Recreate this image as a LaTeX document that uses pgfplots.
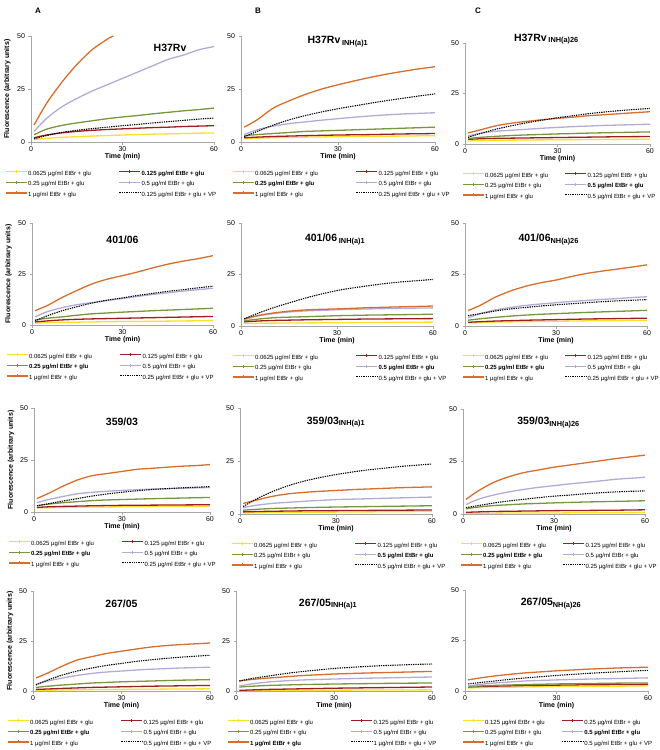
\documentclass[border=0pt]{standalone}
\usepackage{pgfplots}
\pgfplotsset{compat=1.18}
\usepackage{fontspec}
\setmainfont{Liberation Sans}
\definecolor{cyel}{RGB}{250,225,40}
\definecolor{cred}{RGB}{160,30,35}
\definecolor{cgrn}{RGB}{120,150,60}
\definecolor{clav}{RGB}{180,170,215}
\definecolor{corg}{RGB}{215,110,45}
\newcommand{\lf}{\fontsize{6}{7}\selectfont}
\newcommand{\ug}{µg/ml EtBr + glu}
\pgfplotsset{
  panel/.style={scale only axis, anchor=south west, xmin=0,xmax=60,ymin=0,ymax=50, clip=false,
    xtick={0,30,60}, ytick={0,25,50},
    axis x line*=bottom, axis y line*=left,
    hide obscured x ticks=false, hide obscured y ticks=false,
    axis line style={draw=gray!70, line width=0.6pt, -},
    major tick length=2.5pt, tick align=outside,
    tick style={draw=gray!70, line width=0.6pt},
    /pgf/number format/assume math mode=true,
    tick label style={font=\fontsize{7}{8}\selectfont},
    xticklabel style={yshift=1pt},
    xlabel={Time (min)},
    xlabel style={font=\bfseries\fontsize{7}{8}\selectfont, at={(axis description cs:0.5,0)}, anchor=center, yshift=-15pt},
    ylabel style={font=\bfseries\fontsize{7}{8}\selectfont, at={(axis description cs:-0.13,0.5)}, anchor=center},
    legend columns=2, legend cell align=left,
    legend style={draw=none, fill=none, font=\lf, anchor=north west, at={(axis description cs:0,0)}, inner sep=0pt, row sep=3.3pt, nodes={inner sep=0.6pt}, yshift=-28pt},
    legend image code/.code={\draw[##1] (0pt,2.1pt) -- (21pt,2.1pt); \draw[##1, mark=+, mark size=1.6pt] plot coordinates {(10.5pt,2.1pt)};},
    every axis plot/.append style={line width=1.3pt, smooth, mark=none},
  },
  colA/.style={legend style={xshift=-26pt, /tikz/every even column/.append style={column sep=27pt}}, ylabel={Fluorescence (arbitrary units)}},
  colB/.style={legend style={xshift=-9pt, /tikz/every even column/.append style={column sep=37pt}}},
  colC/.style={legend style={xshift=-3pt, /tikz/every even column/.append style={column sep=16pt}}},
  syel/.style={cyel},
  sred/.style={cred},
  sgrn/.style={cgrn},
  slav/.style={clav},
  sorg/.style={corg},
  sdot/.style={black, densely dotted, line width=1.1pt, legend image code/.code={\draw[##1] (0pt,2.1pt) -- (21pt,2.1pt);}},
}
\tikzset{ttl/.style={font=\bfseries\fontsize{10.5}{11}\selectfont}}
\begin{document}
\begin{tikzpicture}
\path[use as bounding box] (0,0) rectangle (660pt,-750pt);
\node[font=\bfseries\fontsize{8}{9}\selectfont] at (38pt,-11pt) {A};
\node[font=\bfseries\fontsize{8}{9}\selectfont] at (258pt,-11pt) {B};
\node[font=\bfseries\fontsize{8}{9}\selectfont] at (478pt,-11pt) {C};

% ---------------- Row 1 ----------------
\begin{axis}[panel, colA, at={(31pt,-142pt)}, width=183pt, height=106pt]
\addplot[syel] coordinates {(1,1.2)(5,1.7)(10,2.2)(15,2.5)(20,2.8)(25,3.05)(30,3.3)(35,3.5)(40,3.7)(45,3.85)(50,4)(55,4.15)(60,4.3)};
\addplot[sred] coordinates {(1,2)(5,3.3)(10,4.3)(15,5)(20,5.5)(25,5.9)(30,6.2)(35,6.5)(40,6.8)(45,7)(50,7.3)(55,7.5)(60,7.7)};
\addplot[sgrn] coordinates {(1,3.4)(5,6)(10,7.8)(15,9)(20,10)(25,11)(30,11.8)(35,12.5)(40,13.3)(45,14)(50,14.7)(55,15.3)(60,16)};
\addplot[slav] coordinates {(1,5)(5,11)(10,16.5)(15,20.5)(20,24)(25,27)(30,30)(35,33)(40,36)(45,39)(50,41)(55,43.5)(60,45)};
\addplot[sorg] coordinates {(1,8)(5,18)(10,28)(15,36.5)(20,43.5)(25,48.5)(27,50)};
\addplot[sdot] coordinates {(1,1.5)(5,3)(10,4.5)(15,5.5)(20,6.3)(25,7)(30,7.7)(35,8.3)(40,9)(45,9.6)(50,10.2)(55,10.8)(60,11.3)};
\legend{0.0625 \ug,\textbf{0.125 \ug},0.25 \ug,0.5 \ug,1 \ug,0.125 \ug{} + VP}
\node[ttl] at (rel axis cs:0.76,0.89) {H37Rv};
\end{axis}

\begin{axis}[panel, colB, at={(241pt,-142pt)}, width=194pt, height=106pt]
\addplot[syel] coordinates {(1,1.5)(5,1.8)(10,2)(15,2.15)(20,2.3)(25,2.4)(30,2.5)(35,2.6)(40,2.7)(45,2.75)(50,2.8)(55,2.9)(60,3)};
\addplot[sred] coordinates {(1,2)(5,2.3)(10,2.6)(15,2.8)(20,3)(25,3.15)(30,3.3)(35,3.4)(40,3.5)(45,3.65)(50,3.8)(55,3.9)(60,4)};
\addplot[sgrn] coordinates {(1,3)(5,3.5)(10,4)(15,4.5)(20,5)(25,5.25)(30,5.5)(35,5.75)(40,6)(45,6.25)(50,6.5)(55,6.75)(60,7)};
\addplot[slav] coordinates {(1,3.5)(5,5.8)(10,7.5)(15,8.7)(20,9.5)(25,10.3)(30,11)(35,11.7)(40,12.3)(45,12.8)(50,13.2)(55,13.5)(60,13.8)};
\addplot[sorg] coordinates {(1,7)(5,10.5)(10,16)(15,19.5)(20,22.5)(25,25)(30,27)(35,28.8)(40,30.5)(45,32)(50,33.3)(55,34.5)(60,35.5)};
\addplot[sdot] coordinates {(1,2.5)(5,5)(10,8)(15,10.5)(20,12.5)(25,14.2)(30,15.7)(35,17)(40,18.3)(45,19.5)(50,20.6)(55,21.7)(60,22.7)};
\legend{0.0625 \ug,0.125 \ug,\textbf{0.25 \ug},0.5 \ug,1 \ug,0.25 \ug{} + VP}
\node[ttl] at (rel axis cs:0.5,0.95) {H37Rv\,\textsubscript{INH(a)1}};
\end{axis}

\begin{axis}[panel, colC, at={(465pt,-144pt)}, width=185pt, height=101pt]
\addplot[syel] coordinates {(1,1.5)(5,1.65)(10,1.8)(15,1.9)(20,2)(25,2.05)(30,2.1)(35,2.15)(40,2.2)(45,2.25)(50,2.3)(55,2.35)(60,2.4)};
\addplot[sred] coordinates {(1,2.3)(5,2.6)(10,2.8)(15,2.9)(20,3)(25,3.1)(30,3.2)(35,3.3)(40,3.4)(45,3.5)(50,3.6)(55,3.65)(60,3.7)};
\addplot[sgrn] coordinates {(1,2.7)(5,3.3)(10,3.8)(15,4.2)(20,4.5)(25,4.75)(30,5)(35,5.2)(40,5.4)(45,5.55)(50,5.7)(55,5.85)(60,6)};
\addplot[slav] coordinates {(1,4)(5,5.3)(10,6.3)(15,6.8)(20,7.3)(25,7.8)(30,8.2)(35,8.6)(40,8.9)(45,9.2)(50,9.4)(55,9.6)(60,9.8)};
\addplot[sorg] coordinates {(1,5.5)(5,7)(10,9)(15,10.3)(20,11.2)(25,12)(30,12.7)(35,13.3)(40,14)(45,14.5)(50,15)(55,15.5)(60,16)};
\addplot[sdot] coordinates {(1,3.3)(5,5.2)(10,7.3)(15,9)(20,10.5)(25,11.8)(30,13)(35,14)(40,15)(45,15.8)(50,16.5)(55,17.1)(60,17.6)};
\legend{0.0625 \ug,0.125 \ug,0.25 \ug,\textbf{0.5 \ug},1 \ug,0.5 \ug{} + VP}
\node[ttl] at (rel axis cs:0.44,1.04) {H37Rv\,\textsubscript{INH(a)26}};
\end{axis}

% ---------------- Row 2 ----------------
\begin{axis}[panel, colA, at={(32pt,-325pt)}, width=181pt, height=102pt]
\addplot[syel] coordinates {(1,1)(5,1.15)(10,1.3)(15,1.4)(20,1.5)(25,1.6)(30,1.7)(35,1.75)(40,1.8)(45,1.9)(50,2)(55,2.05)(60,2.1)};
\addplot[sred] coordinates {(1,1.5)(5,2)(10,2.5)(15,2.8)(20,3)(25,3.15)(30,3.3)(35,3.45)(40,3.6)(45,3.75)(50,3.9)(55,4.05)(60,4.2)};
\addplot[sgrn] coordinates {(1,2.5)(5,3.3)(10,4)(15,4.8)(20,5.5)(25,5.9)(30,6.3)(35,6.65)(40,7)(45,7.3)(50,7.6)(55,7.9)(60,8.2)};
\addplot[slav] coordinates {(1,4)(5,6.5)(10,8.5)(15,10)(20,11)(25,12)(30,13)(35,14)(40,15)(45,15.8)(50,16.6)(55,17.3)(60,18)};
\addplot[sorg] coordinates {(1,7)(5,9.5)(10,13.5)(15,17)(20,20.2)(25,22.5)(30,24.2)(35,26)(40,28)(45,29.8)(50,31.3)(55,32.5)(60,34)};
\addplot[sdot] coordinates {(1,2)(5,4.5)(10,7)(15,9)(20,10.8)(25,12.2)(30,13.3)(35,14.5)(40,15.5)(45,16.5)(50,17.3)(55,18.2)(60,19)};
\legend{0.0625 \ug,0.125 \ug,\textbf{0.25 \ug},0.5 \ug,1 \ug,0.25 \ug{} + VP}
\node[ttl] at (rel axis cs:0.5,0.84) {401/06};
\end{axis}

\begin{axis}[panel, colB, at={(241pt,-326pt)}, width=192pt, height=103pt]
\addplot[syel] coordinates {(1,1.2)(5,1.3)(10,1.4)(15,1.45)(20,1.5)(25,1.55)(30,1.6)(35,1.65)(40,1.7)(45,1.75)(50,1.8)(55,1.85)(60,1.9)};
\addplot[sred] coordinates {(1,2)(5,2.4)(10,2.7)(15,2.85)(20,3)(25,3.1)(30,3.2)(35,3.3)(40,3.4)(45,3.45)(50,3.5)(55,3.55)(60,3.6)};
\addplot[sgrn] coordinates {(1,2.5)(5,3.3)(10,4)(15,4.3)(20,4.5)(25,4.75)(30,5)(35,5.15)(40,5.3)(45,5.4)(50,5.5)(55,5.6)(60,5.7)};
\addplot[slav] coordinates {(1,3)(5,4.8)(10,6)(15,6.8)(20,7.3)(25,7.6)(30,7.9)(35,8.1)(40,8.3)(45,8.45)(50,8.6)(55,8.7)(60,8.8)};
\addplot[sorg] coordinates {(1,3.5)(5,5)(10,6.3)(15,7.2)(20,7.8)(25,8.1)(30,8.3)(35,8.6)(40,8.9)(45,9.1)(50,9.3)(55,9.5)(60,9.7)};
\addplot[sdot] coordinates {(1,3.5)(5,6)(10,8.8)(15,11.2)(20,13.5)(25,15.5)(30,17.2)(35,18.5)(40,19.6)(45,20.6)(50,21.4)(55,22)(60,22.6)};
\legend{0.0625 \ug,0.125 \ug,0.25 \ug,\textbf{0.5 \ug},1 \ug,0.5 \ug{} + VP}
\node[ttl] at (rel axis cs:0.49,0.84) {401/06\,\textsubscript{INH(a)1}};
\end{axis}

\begin{axis}[panel, colC, at={(465pt,-326pt)}, width=182pt, height=103pt]
\addplot[syel] coordinates {(1,1.5)(5,1.7)(10,1.9)(15,2)(20,2.1)(25,2.2)(30,2.3)(35,2.4)(40,2.5)(45,2.55)(50,2.6)(55,2.65)(60,2.7)};
\addplot[sred] coordinates {(1,1.8)(5,2.1)(10,2.4)(15,2.6)(20,2.8)(25,2.95)(30,3.1)(35,3.25)(40,3.4)(45,3.5)(50,3.6)(55,3.7)(60,3.8)};
\addplot[sgrn] coordinates {(1,2.8)(5,3.5)(10,4.2)(15,4.8)(20,5.3)(25,5.7)(30,6)(35,6.3)(40,6.6)(45,6.85)(50,7.1)(55,7.35)(60,7.6)};
\addplot[slav] coordinates {(1,4)(5,6)(10,7.8)(15,9)(20,10)(25,10.7)(30,11.3)(35,11.9)(40,12.4)(45,12.9)(50,13.3)(55,13.8)(60,14.2)};
\addplot[sorg] coordinates {(1,7.5)(5,10)(10,14)(15,17)(20,19.3)(25,21)(30,22.3)(35,24)(40,25.5)(45,26.6)(50,27.6)(55,28.6)(60,29.7)};
\addplot[sdot] coordinates {(1,5)(5,6)(10,7.3)(15,8.3)(20,9)(25,9.7)(30,10.3)(35,10.8)(40,11.3)(45,11.8)(50,12.2)(55,12.5)(60,12.8)};
\legend{0.0625 \ug,0.125 \ug,\textbf{0.25 \ug},0.5 \ug,1 \ug,0.25 \ug{} + VP}
\node[ttl] at (rel axis cs:0.46,0.84) {401/06\textsubscript{NH(a)26}};
\end{axis}

% ---------------- Row 3 ----------------
\begin{axis}[panel, colA, at={(34pt,-512pt)}, width=176pt, height=104pt]
\addplot[syel] coordinates {(1,2)(5,2.1)(10,2.2)(15,2.3)(20,2.4)(25,2.45)(30,2.5)(35,2.55)(40,2.6)(45,2.65)(50,2.7)(55,2.75)(60,2.8)};
\addplot[sred] coordinates {(1,2.2)(5,2.5)(10,2.7)(15,2.85)(20,3)(25,3.1)(30,3.2)(35,3.25)(40,3.3)(45,3.35)(50,3.4)(55,3.45)(60,3.5)};
\addplot[sgrn] coordinates {(1,3)(5,3.8)(10,4.5)(15,5)(20,5.5)(25,5.8)(30,6)(35,6.2)(40,6.4)(45,6.55)(50,6.7)(55,6.85)(60,7)};
\addplot[slav] coordinates {(1,4.5)(5,6)(10,7.5)(15,8.8)(20,9.5)(25,10)(30,10.4)(35,10.7)(40,11)(45,11.2)(50,11.4)(55,11.6)(60,11.8)};
\addplot[sorg] coordinates {(1,6.5)(5,9)(10,12.5)(15,15.5)(20,17.5)(25,18.5)(30,19.5)(35,20.5)(40,21)(45,21.5)(50,22)(55,22.3)(60,22.8)};
\addplot[sdot] coordinates {(1,3)(5,4)(10,5.3)(15,6.5)(20,7.7)(25,8.7)(30,9.5)(35,10.2)(40,10.8)(45,11.2)(50,11.6)(55,11.9)(60,12.2)};
\legend{0.0625 \ug,0.125 \ug,\textbf{0.25 \ug},0.5 \ug,1 \ug,0.25 \ug{} + VP}
\node[ttl] at (rel axis cs:0.5,0.87) {359/03};
\end{axis}

\begin{axis}[panel, colB, at={(240pt,-514pt)}, width=192pt, height=106pt]
\addplot[syel] coordinates {(1,0.5)(5,0.6)(10,0.7)(15,0.75)(20,0.8)(25,0.85)(30,0.9)(35,0.95)(40,1)(45,1.05)(50,1.1)(55,1.15)(60,1.2)};
\addplot[sred] coordinates {(1,1)(5,1.15)(10,1.3)(15,1.4)(20,1.5)(25,1.55)(30,1.6)(35,1.65)(40,1.7)(45,1.75)(50,1.8)(55,1.85)(60,1.9)};
\addplot[sgrn] coordinates {(1,1.8)(5,2.2)(10,2.6)(15,2.8)(20,3)(25,3.15)(30,3.3)(35,3.4)(40,3.5)(45,3.6)(50,3.7)(55,3.8)(60,3.9)};
\addplot[slav] coordinates {(1,3)(5,4.1)(10,5)(15,5.5)(20,6)(25,6.4)(30,6.8)(35,7)(40,7.2)(45,7.4)(50,7.6)(55,7.8)(60,8)};
\addplot[sorg] coordinates {(1,5)(5,6.5)(10,8.3)(15,9.5)(20,10.2)(25,10.7)(30,11.1)(35,11.5)(40,11.8)(45,12.1)(50,12.4)(55,12.6)(60,12.8)};
\addplot[sdot] coordinates {(1,3.5)(5,7)(10,10.5)(15,13.3)(20,15.5)(25,17.2)(30,18.6)(35,19.8)(40,20.8)(45,21.6)(50,22.4)(55,23)(60,23.6)};
\legend{0.0625 \ug,0.125 \ug,0.25 \ug,\textbf{0.5 \ug},1 \ug,0.5 \ug{} + VP}
\node[ttl] at (rel axis cs:0.5,0.87) {359/03\textsubscript{INH(a)1}};
\end{axis}

\begin{axis}[panel, colC, at={(463pt,-514pt)}, width=182pt, height=105pt]
\addplot[syel] coordinates {(1,0.3)(5,0.35)(10,0.4)(15,0.45)(20,0.5)(25,0.5)(30,0.5)(35,0.55)(40,0.6)(45,0.6)(50,0.6)(55,0.65)(60,0.7)};
\addplot[sred] coordinates {(1,0.8)(5,1)(10,1.2)(15,1.3)(20,1.4)(25,1.5)(30,1.6)(35,1.65)(40,1.7)(45,1.75)(50,1.8)(55,1.9)(60,2)};
\addplot[sgrn] coordinates {(1,2.5)(5,3.3)(10,4)(15,4.4)(20,4.8)(25,5.05)(30,5.3)(35,5.5)(40,5.7)(45,5.85)(50,6)(55,6.15)(60,6.3)};
\addplot[slav] coordinates {(1,4.5)(5,7)(10,9)(15,10.5)(20,11.7)(25,12.7)(30,13.5)(35,14.3)(40,15)(45,15.7)(50,16.5)(55,17)(60,17.5)};
\addplot[sorg] coordinates {(1,7)(5,11)(10,15)(15,17.7)(20,19.7)(25,21)(30,22.3)(35,23.3)(40,24.3)(45,25.3)(50,26.3)(55,27.2)(60,28)};
\addplot[sdot] coordinates {(1,3)(5,4)(10,5.2)(15,6.2)(20,7)(25,7.8)(30,8.5)(35,9)(40,9.6)(45,10.1)(50,10.5)(55,10.8)(60,11)};
\legend{0.0625 \ug,0.125 \ug,\textbf{0.25 \ug},0.5 \ug,1 \ug,0.25 \ug{} + VP}
\node[ttl] at (rel axis cs:0.47,0.87) {359/03\textsubscript{INH(a)26}};
\end{axis}

% ---------------- Row 4 ----------------
\begin{axis}[panel, colA, at={(33pt,-691pt)}, width=177pt, height=100pt]
\addplot[syel] coordinates {(1,0.3)(5,0.4)(10,0.5)(15,0.6)(20,0.7)(25,0.75)(30,0.8)(35,0.85)(40,0.9)(45,0.95)(50,1)(55,1.05)(60,1.1)};
\addplot[sred] coordinates {(1,0.8)(5,1)(10,1.3)(15,1.55)(20,1.8)(25,1.95)(30,2.1)(35,2.25)(40,2.4)(45,2.5)(50,2.6)(55,2.7)(60,2.8)};
\addplot[sgrn] coordinates {(1,1.8)(5,2.4)(10,3)(15,3.5)(20,4)(25,4.3)(30,4.6)(35,4.8)(40,5)(45,5.2)(50,5.4)(55,5.55)(60,5.7)};
\addplot[slav] coordinates {(1,3.5)(5,5)(10,6.5)(15,7.8)(20,8.8)(25,9.5)(30,10)(35,10.5)(40,10.9)(45,11.2)(50,11.5)(55,11.7)(60,11.9)};
\addplot[sorg] coordinates {(1,6.5)(5,9)(10,12.5)(15,15.5)(20,17.2)(25,18.8)(30,19.9)(35,21)(40,22)(45,22.7)(50,23.2)(55,23.6)(60,24)};
\addplot[sdot] coordinates {(1,3)(5,5.5)(10,8)(15,10)(20,11.5)(25,12.8)(30,13.8)(35,14.8)(40,15.6)(45,16.3)(50,16.9)(55,17.4)(60,17.9)};
\legend{0.0625 \ug,0.125 \ug,\textbf{0.25 \ug},0.5 \ug,1 \ug,0.5 \ug{} + VP}
\node[ttl] at (rel axis cs:0.5,0.87) {267/05};
\end{axis}

\begin{axis}[panel, colB, at={(236pt,-691pt)}, width=196pt, height=100pt]
\addplot[syel] coordinates {(1,0.2)(5,0.25)(10,0.3)(15,0.35)(20,0.4)(25,0.4)(30,0.4)(35,0.45)(40,0.5)(45,0.5)(50,0.5)(55,0.55)(60,0.6)};
\addplot[sred] coordinates {(1,0.3)(5,0.55)(10,0.8)(15,0.95)(20,1.1)(25,1.25)(30,1.4)(35,1.5)(40,1.6)(45,1.7)(50,1.8)(55,1.9)(60,2)};
\addplot[sgrn] coordinates {(1,2)(5,2.4)(10,2.8)(15,3)(20,3.2)(25,3.35)(30,3.5)(35,3.6)(40,3.7)(45,3.8)(50,3.9)(55,3.95)(60,4)};
\addplot[slav] coordinates {(1,2.5)(5,3.6)(10,4.5)(15,5.1)(20,5.5)(25,5.75)(30,6)(35,6.2)(40,6.4)(45,6.55)(50,6.7)(55,6.85)(60,7)};
\addplot[sorg] coordinates {(1,5)(5,5.8)(10,6.5)(15,7.1)(20,7.7)(25,8.1)(30,8.5)(35,8.75)(40,9)(45,9.2)(50,9.4)(55,9.6)(60,9.8)};
\addplot[sdot] coordinates {(1,5)(5,6.3)(10,7.5)(15,8.7)(20,9.7)(25,10.5)(30,11.3)(35,11.8)(40,12.3)(45,12.7)(50,13)(55,13.3)(60,13.5)};
\legend{0.0625 \ug,0.125 \ug,0.25 \ug,0.5 \ug,\textbf{1 \ug},1 \ug{} + VP}
\node[ttl] at (rel axis cs:0.47,0.87) {267/05\textsubscript{INH(a)1}};
\end{axis}

\begin{axis}[panel, colC, at={(465pt,-691pt)}, width=183pt, height=101pt]
\addplot[syel] coordinates {(1,1.5)(5,1.65)(10,1.8)(15,1.9)(20,2)(25,2.1)(30,2.2)(35,2.25)(40,2.3)(45,2.35)(50,2.4)(55,2.45)(60,2.5)};
\addplot[sred] coordinates {(1,2)(5,2.2)(10,2.4)(15,2.55)(20,2.7)(25,2.8)(30,2.9)(35,3)(40,3.1)(45,3.15)(50,3.2)(55,3.25)(60,3.3)};
\addplot[sgrn] coordinates {(1,2.2)(5,2.5)(10,2.8)(15,3)(20,3.2)(25,3.35)(30,3.5)(35,3.6)(40,3.7)(45,3.8)(50,3.9)(55,3.95)(60,4)};
\addplot[slav] coordinates {(1,2.5)(5,3.3)(10,4)(15,4.5)(20,5)(25,5.25)(30,5.5)(35,5.7)(40,5.9)(45,6.05)(50,6.2)(55,6.35)(60,6.5)};
\addplot[sorg] coordinates {(1,5.5)(5,6.5)(10,7.5)(15,8.3)(20,9)(25,9.5)(30,10)(35,10.4)(40,10.8)(45,11.1)(50,11.4)(55,11.6)(60,11.8)};
\addplot[sdot] coordinates {(1,3.5)(5,4.2)(10,5)(15,5.8)(20,6.5)(25,7.1)(30,7.7)(35,8.2)(40,8.7)(45,9.1)(50,9.5)(55,9.9)(60,10.2)};
\legend{0.125 \ug,0.25 \ug,0.25 \ug,\textbf{0.5 \ug},1 \ug,0.5 \ug{} + VP}
\node[ttl] at (rel axis cs:0.47,0.87) {267/05\textsubscript{NH(a)26}};
\end{axis}
\end{tikzpicture}
\end{document}
